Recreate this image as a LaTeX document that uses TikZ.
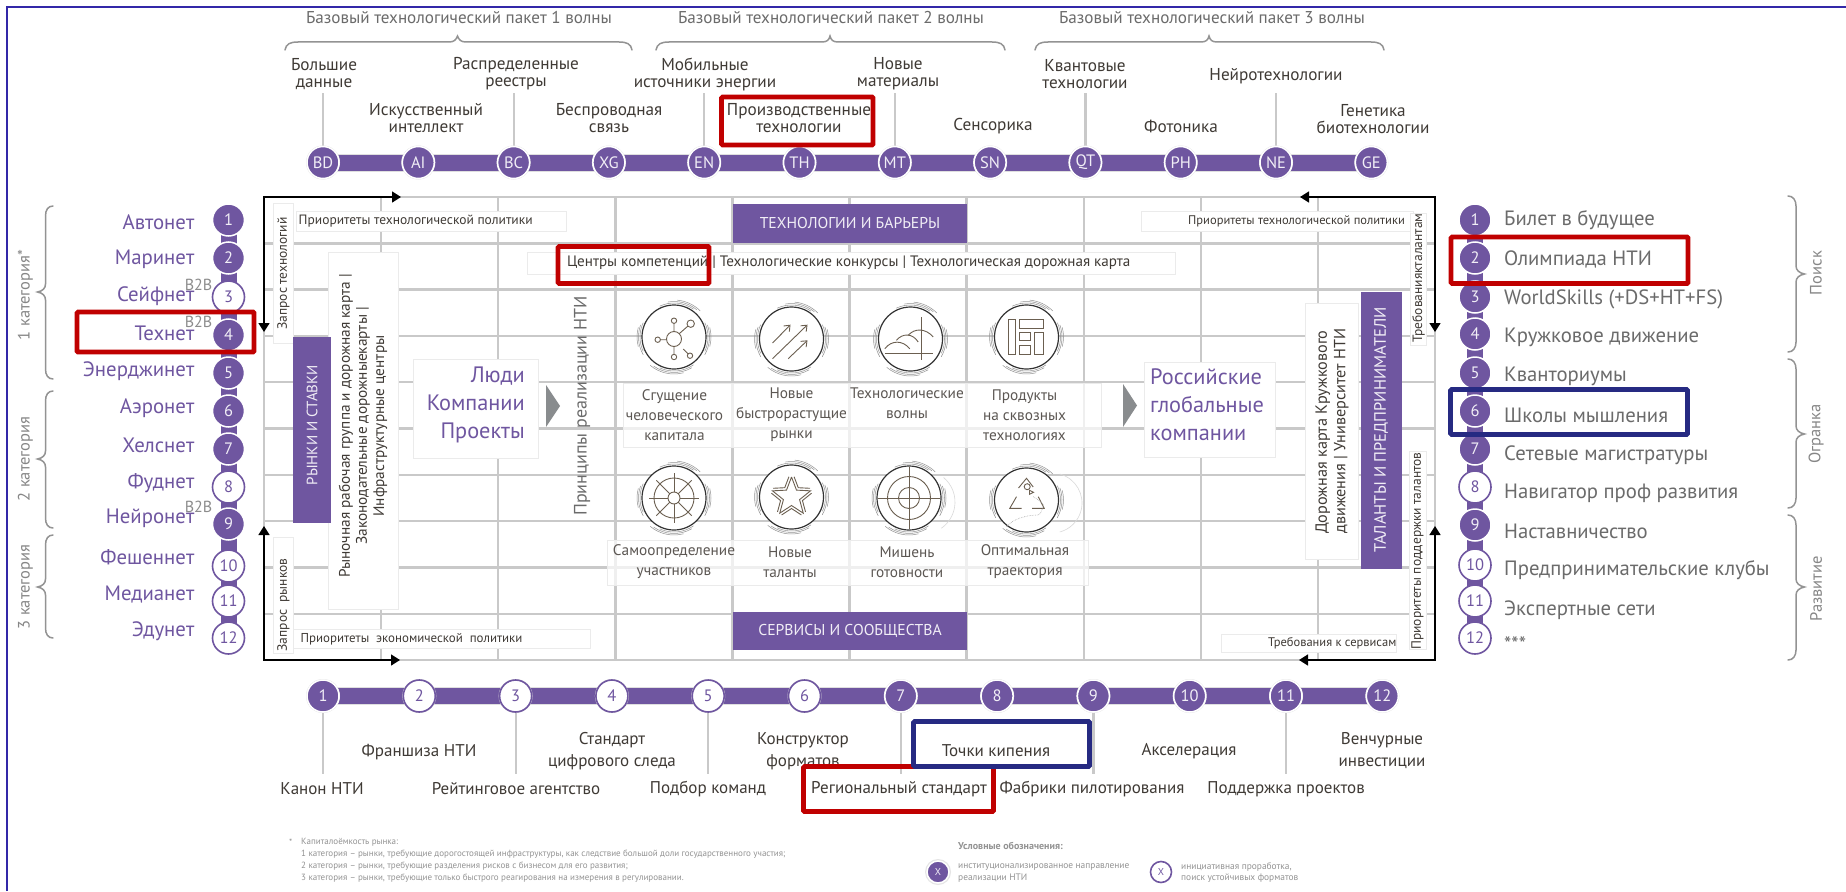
\documentclass[tikz,border=0pt]{standalone}
\usepackage{fontspec}
\setmainfont{PT Sans}
\usetikzlibrary{arrows.meta,calc}
\definecolor{pur}{HTML}{6F56A0}
\definecolor{txtg}{HTML}{6B6B6B}
\definecolor{txtd}{HTML}{3F3A35}
\definecolor{gridc}{HTML}{C9C9C9}
\definecolor{hred}{HTML}{C00000}
\definecolor{hblue}{HTML}{262A82}
\definecolor{frameblue}{HTML}{3328A8}
\definecolor{icb}{HTML}{6B5F50}
\newcommand{\fs}[1]{\fontsize{#1}{#1}\selectfont}
\newcommand{\fsl}[2]{\fontsize{#1}{#2}\selectfont}
\tikzset{
  x=1pt,y=-1pt,
  gridline/.style={gridc,line width=2.4pt},
  bigbar/.style={pur,line width=16pt},
  listbar/.style={pur,line width=16pt},
  conn/.style={gridc,line width=2.2pt},
  dot/.style={circle,fill=pur,draw=white,line width=1.5pt,minimum size=32pt,inner sep=0pt,text=white!90!pur,font=\fs{16.5}},
  odot/.style={circle,fill=white,draw=pur,line width=1.6pt,minimum size=32pt,inner sep=0pt,text=pur,font=\fs{16.5}},
  lab/.style={text=txtd,font=\fsl{17.2}{17},align=center,inner sep=0pt},
  lab2/.style={text=txtd,font=\fsl{17}{22},align=center,inner sep=0pt},
  wave/.style={text=txtg,font=\fs{17.1},inner sep=0pt},
  leftl/.style={text=pur,font=\fs{20.8},anchor=east,inner sep=0pt},
  rightl/.style={text=txtg,font=\fs{20.7},anchor=west,inner sep=0pt},
  bbt/.style={text=gray!90,font=\fs{16},inner sep=0pt},
  brace/.style={draw=gray!85,line width=1.5pt,line cap=round},
  catl/.style={text=gray!95,font=\fs{16.5},rotate=90,inner sep=0pt},
  wbox/.style={draw=black!8,fill=white,line width=.7pt,inner sep=0pt},
  tbox/.style={draw=black!8,fill=white,fill opacity=.72,line width=.7pt,inner sep=0pt},
  pbox/.style={fill=pur,draw=none,inner sep=0pt,text=white!90!pur},
  small/.style={text=txtd,font=\fs{13.5},inner sep=0pt},
  flow/.style={black,line width=1.5pt,{Triangle[length=9pt,width=11pt]}-{Triangle[length=9pt,width=11pt]}},
  big/.style={text=pur,font=\fsl{22.3}{28},inner sep=0pt},
  capt/.style={text=txtd!85,font=\fsl{15.3}{20},align=center,inner sep=0pt},
  hl/.style={line width=4.6pt,rounded corners=1pt},
  icon/.style={icb,line width=.9pt},
  ring/.style={black!80,line width=1.2pt},
  arcs/.style={gray!85,line width=.5pt},
  tri/.style={fill=black!55!cyan!10!gray,draw=none},
  foot/.style={text=gray!85,font=\fs{9},anchor=west,inner sep=0pt},
  leg/.style={text=gray!85,font=\fs{9.4},anchor=west,inner sep=0pt},
}
\newcommand{\ringat}[2]{%
  \draw[white,fill=white] (#1,#2) circle (32);
  \draw[ring] (#1,#2) circle (32);
  \draw[arcs] ($(#1,#2)+(-115:34)$) arc (-115:-55:34) ($(#1,#2)+(-100:35.5)$) arc (-100:-50:35.5) ($(#1,#2)+(-85:37)$) arc (-85:-45:37);
  \draw[arcs] ($(#1,#2)+(-25:34)$) arc (-25:25:34) ($(#1,#2)+(-20:35.5)$) arc (-20:30:35.5) ($(#1,#2)+(-15:37)$) arc (-15:15:37);
  \draw[arcs] ($(#1,#2)+(55:34)$) arc (55:115:34) ($(#1,#2)+(60:35.5)$) arc (60:125:35.5) ($(#1,#2)+(75:37)$) arc (75:130:37);
  \draw[arcs] ($(#1,#2)+(155:34)$) arc (155:205:34) ($(#1,#2)+(150:35.5)$) arc (150:200:35.5) ($(#1,#2)+(165:37)$) arc (165:195:37);
}
\begin{document}
\begin{tikzpicture}
\useasboundingbox (0,0) rectangle (1846,891);
\fill[white] (0,0) rectangle (1846,891);
% frame
\draw[frameblue,line width=2pt] (7,891) -- (7,7) -- (1846,7);

% grid
\foreach \i in {0,...,10}{
  \draw[gridline] ({264+\i*117.1},197) -- ({264+\i*117.1},660);
  \draw[gridline] (264,{197+\i*46.3}) -- (1435,{197+\i*46.3});
}
% flow arrows
\coordinate (fa1) at (264,332); \coordinate (fa2) at (264,197); \coordinate (fa3) at (401,197);
\coordinate (fb1) at (1300,197); \coordinate (fb2) at (1435,197); \coordinate (fb3) at (1435,332);
\coordinate (fc1) at (264,526); \coordinate (fc2) at (264,660); \coordinate (fc3) at (400,660);
\coordinate (fd1) at (1435,526); \coordinate (fd2) at (1435,660); \coordinate (fd3) at (1299,660);
\draw[flow] (fa1) -- (fa2) -- (fa3);
\draw[flow] (fb1) -- (fb2) -- (fb3);
\draw[flow] (fc1) -- (fc2) -- (fc3);
\draw[flow] (fd1) -- (fd2) -- (fd3);

% wave titles and braces
\node[wave] (w1) at (459,18) {Базовый технологический пакет 1 волны};
\node[wave] (w2) at (831,18) {Базовый технологический пакет 2 волны};
\node[wave] (w3) at (1212,18) {Базовый технологический пакет 3 волны};
\draw[brace] (285,50) .. controls (286,44) and (290,42) .. (298,42) -- (449,42) .. controls (454,42) and (456,40) .. (457.5,36) .. controls (459,40) and (461,42) .. (466,42) -- (619,42) .. controls (627,42) and (631,44) .. (632,50);
\draw[brace] (656,50) .. controls (657,44) and (661,42) .. (669,42) -- (822,42) .. controls (827,42) and (829,40) .. (830,36) .. controls (831,40) and (833,42) .. (838,42) -- (992,42) .. controls (1000,42) and (1004,44) .. (1005,50);
\draw[brace] (1035,50) .. controls (1036,44) and (1040,42) .. (1048,42) -- (1201,42) .. controls (1206,42) and (1208,40) .. (1209,36) .. controls (1210,40) and (1212,42) .. (1217,42) -- (1371,42) .. controls (1379,42) and (1383,44) .. (1384,50);

% top row
\foreach \n/\t [count=\i from 0] in {BD/BD,AI/AI,BC/BC,XG/XG,EN/EN,TH/TH,MT/MT,SN/SN,QT/QT,PH/PH,NE/NE,GE/GE}
  \coordinate (p\n) at ({323+\i*95.3},162.5);
\draw[gridc!60,line width=18pt] (pBD) -- (pGE);
\draw[bigbar] (pBD) -- (pGE);
\foreach \n in {BD,EN,BC,MT,QT,NE}{
  \coordinate (e\n) at ($(p\n)+(0,-69.5)$);
  \draw[conn] (p\n) -- (e\n);
}
\foreach \n [count=\i from 0] in {BD,AI,BC,XG,EN,TH,MT,SN,QT,PH,NE,GE}{
  \fill[black!12] (p\n) circle (17);
  \node[dot] (t\n) at (p\n) {\n};
}
\node[lab] (l1) at (324,74) {Большие\\данные};
\node[lab] (l2) at (426,118) {Искусственный\\интеллект};
\node[lab] (l3) at (516,74) {Распределенные\\реестры};
\node[lab] (l4) at (609,118) {Беспроводная\\связь};
\node[lab] (l5) at (705,74) {Мобильные\\источники энергии};
\node[lab] (l6) at (799,118) {Производственные\\технологии};
\node[lab] (l7) at (898,74) {Новые\\материалы};
\node[lab] (l8) at (993,126.5) {Сенсорика};
\node[lab] (l9) at (1085,74) {Квантовые\\технологии};
\node[lab] (l10) at (1181,126.5) {Фотоника};
\node[lab] (l11) at (1276,76.5) {Нейротехнологии};
\node[lab] (l12) at (1373,119.5) {Генетика\\биотехнологии};

% bottom row
\foreach \i in {1,...,12}
  \coordinate (q\i) at ({323+(\i-1)*96.3},696);
\draw[gridc!60,line width=18pt] (q1) -- (q12);
\draw[bigbar] (q1) -- (q12);
\foreach \i in {1,3,5,7,9,11}{
  \coordinate (r\i) at ($(q\i)+(0,78)$);
  \draw[conn] (q\i) -- (r\i);
}
\foreach \i in {1,7,8,9,10,11,12}{
  \fill[black!12] (q\i) circle (17);
  \node[dot] (b\i) at (q\i) {\i};
}
\foreach \i in {2,3,4,5,6}{
  \fill[black!12] (q\i) circle (17);
  \node[odot] (b\i) at (q\i) {\i};
}
\node[lab2] (m1) at (322,789) {Канон НТИ};
\node[lab2] (m2) at (419,752) {Франшиза НТИ};
\node[lab2] (m3) at (516,789) {Рейтинговое агентство};
\node[lab2] (m4) at (612,751) {Стандарт\\цифрового следа};
\node[lab2] (m5) at (708,789) {Подбор команд};
\node[lab2] (m6) at (803,751) {Конструктор\\форматов};
\node[lab2] (m7) at (899,789) {Региональный стандарт};
\node[lab2] (m8) at (996,751) {Точки кипения};
\node[lab2] (m9) at (1092,789) {Фабрики пилотирования};
\node[lab2] (m10) at (1189,751) {Акселерация};
\node[lab2] (m11) at (1286,789) {Поддержка проектов};
\node[lab2] (m12) at (1382,751) {Венчурные\\инвестиции};

% left list
\coordinate (ltop) at (228.5,220); \coordinate (lbot) at (228.5,638);
\draw[listbar] (ltop) -- (lbot);
\foreach \i/\y/\s in {1/220/dot,2/258/dot,3/297/odot,4/335/dot,5/373/dot,6/411/dot,7/449/dot,8/487/odot,9/524/dot,10/566/odot,11/601/odot,12/638/odot}{
  \node[\s] (a\i) at (228.5,\y) {\i};
}
\foreach \i/\y/\t in {1/222/Автонет,2/259.5/Маринет,3/296.5/Сейфнет,4/333.5/Технет,5/371.5/Энерджинет,6/408.5/Аэронет,7/445.5/Хелснет,8/483.5/Фуднет,9/518.5/Нейронет,10/557.5/Фешеннет,11/594.5/Медианет,12/631.5/Эдунет}{
  \node[leftl] (at\i) at (194.5,\y) {\t};
}
\node[bbt] (b2ba) at (198.5,285) {B2B};
\node[bbt] (b2bb) at (198.5,322) {B2B};
\node[bbt] (b2bc) at (198.5,507) {B2B};
% left braces
\draw[brace] (53,206) .. controls (48,206) and (45.5,210) .. (45.5,216) -- (45.5,284) .. controls (45.5,288) and (43,291) .. (37.5,292) .. controls (43,293) and (45.5,296) .. (45.5,300) -- (45.5,369) .. controls (45.5,375) and (48,379) .. (53,379);
\draw[brace] (53,391) .. controls (48,391) and (45.5,395) .. (45.5,401) -- (45.5,451) .. controls (45.5,455) and (43,458) .. (37.5,459) .. controls (43,460) and (45.5,463) .. (45.5,467) -- (45.5,518) .. controls (45.5,524) and (48,528) .. (53,528);
\draw[brace] (53,535) .. controls (48,535) and (45.5,539) .. (45.5,545) -- (45.5,579) .. controls (45.5,583) and (43,586) .. (37.5,587) .. controls (43,588) and (45.5,591) .. (45.5,595) -- (45.5,628) .. controls (45.5,634) and (48,638) .. (53,638);
\node[catl] (c1) at (25.5,295) {1 категория*};
\node[catl] (c2) at (25.5,459) {2 категория};
\node[catl] (c3) at (25.5,587) {3 категория};

% right list
\coordinate (rtop) at (1475,220); \coordinate (rbot) at (1475,638);
\draw[listbar] (rtop) -- (rbot);
\foreach \i/\y/\s in {1/220/dot,2/258/dot,3/297/dot,4/334/dot,5/373/dot,6/411/dot,7/449/dot,8/487/odot,9/525/dot,10/565/odot,11/601/odot,12/638/odot}{
  \node[\s] (z\i) at (1475,\y) {\i};
}
\foreach \i/\y/\t in {1/220/Билет в будущее,2/259/Олимпиада НТИ,3/299/{WorldSkills (+DS+HT+FS)},4/337/Кружковое движение,5/376/Кванториумы,6/415/Школы мышления,7/455/Сетевые магистратуры,8/493/Навигатор проф развития,9/531/Наставничество,10/570/Предпринимательские клубы,11/610/Экспертные сети,12/644/***}{
  \node[rightl] (zt\i) at (1504,\y) {\t};
}
% right braces
\draw[brace] (1788,196) .. controls (1793,196) and (1796,200) .. (1796,206) -- (1796,266) .. controls (1796,270) and (1799,273) .. (1804.5,274) .. controls (1799,275) and (1796,278) .. (1796,282) -- (1796,342) .. controls (1796,348) and (1793,352) .. (1788,352);
\draw[brace] (1788,359) .. controls (1793,359) and (1796,363) .. (1796,369) -- (1796,426) .. controls (1796,430) and (1799,433) .. (1804.5,434) .. controls (1799,435) and (1796,438) .. (1796,442) -- (1796,498) .. controls (1796,504) and (1793,508) .. (1788,508);
\draw[brace] (1788,515) .. controls (1793,515) and (1796,519) .. (1796,525) -- (1796,579) .. controls (1796,583) and (1799,586) .. (1804.5,587) .. controls (1799,588) and (1796,591) .. (1796,595) -- (1796,650) .. controls (1796,656) and (1793,660) .. (1788,660);
\node[catl] (d1) at (1816,273) {Поиск};
\node[catl] (d2) at (1816,434) {Огранка};
\node[catl] (d3) at (1816,589) {Развитие};

% inner boxes left
\node[wbox,minimum width=20pt,minimum height=140pt] (zt) at (283.5,273) {};
\node[small,rotate=90] (ztt) at (283.5,273.5) {Запрос технологий};
\node[wbox,minimum width=270pt,minimum height=20pt] (pt) at (431,221) {};
\node[small,anchor=west] (ptt) at (298.5,221) {Приоритеты технологической политики};
\node[wbox,minimum width=70pt,minimum height=357pt] (rr) at (363,430.5) {};
\node[pbox,minimum width=37.5pt,minimum height=186pt,rotate=0] (rs) at (312,430) {};
\node[text=white!90!pur,font=\fs{15},rotate=90,inner sep=0pt] (rst) at (312,425) {РЫНКИ И СТАВКИ};
\node[text=txtd,font=\fsl{15.3}{17.2},rotate=90,align=center,inner sep=0pt] (rrt) at (363,426) {Рыночная рабочая группа и дорожная карта |\\Законодательные дорожныекарты |\\Инфраструктурные центры};
\node[wbox,minimum width=124.5pt,minimum height=99pt] (lk) at (476,408.5) {};
\node[big,align=right,anchor=east] (lkt) at (525,405) {Люди\\Компании\\Проекты};
\fill[tri] (546,385) -- (560,406) -- (546,427) -- cycle;
\node[text=txtg,font=\fs{18},rotate=90,inner sep=0pt] (pr) at (582,406) {Принципы реализации НТИ};
\node[wbox,minimum width=648pt,minimum height=22pt] (cb) at (851,263) {};
\node[small,anchor=west,font=\fs{15.1}] (cbt) at (567,263) {Центры компетенций | Технологические конкурсы | Технологическая дорожная карта};
\node[pbox,minimum width=234pt,minimum height=39pt,font=\fs{15.7}] (tb) at (850,223.5) {ТЕХНОЛОГИИ И БАРЬЕРЫ};
\node[pbox,minimum width=234pt,minimum height=38pt,font=\fs{15.7}] (sb) at (850,631) {СЕРВИСЫ И СООБЩЕСТВА};
\node[wbox,minimum width=20pt,minimum height=116pt] (zr) at (283.5,595) {};
\node[small,rotate=90] (zrt) at (283.5,605) {Запрос\ \ рынков};
\node[wbox,minimum width=297pt,minimum height=19pt] (pe) at (441.5,638.5) {};
\node[small,anchor=west,font=\fs{12.9}] (pet) at (300.5,639) {Приоритеты\ \ экономической\ \ политики};

% inner boxes right
\node[wbox,minimum width=272pt,minimum height=20pt] (pt2) at (1277,221) {};
\node[small,anchor=east,font=\fs{12.5}] (pt2t) at (1405,221) {Приоритеты технологической политики};
\node[wbox,minimum width=16pt,minimum height=132pt] (tk) at (1418,279) {};
\node[small,rotate=90] (tkt) at (1418.5,278) {Требованиякталантам};
\node[wbox,minimum width=53pt,minimum height=256pt] (dk) at (1331.5,431) {};
\node[text=txtd,font=\fsl{16.2}{18.6},rotate=90,align=left,inner sep=0pt] (dkt) at (1332,431) {Дорожная карта Кружкового\\движения | Университет НТИ};
\node[pbox,minimum width=41pt,minimum height=277pt] (tp) at (1381.5,430.5) {};
\node[text=white!90!pur,font=\fs{16.5},rotate=90,inner sep=0pt] (tpt) at (1381,430) {ТАЛАНТЫ И ПРЕДПРИНИМАТЕЛИ};
\node[wbox,minimum width=17.5pt,minimum height=198pt] (pp) at (1418,550) {};
\node[small,rotate=90] (ppt) at (1417.5,551) {Приоритеты поддержки талантов};
\node[wbox,minimum width=175pt,minimum height=18pt] (ts) at (1308.5,643) {};
\node[small,anchor=east,font=\fs{12.5}] (tst) at (1396.5,643) {Требования к сервисам};
\node[wbox,minimum width=131pt,minimum height=95pt] (rg) at (1209.5,409.5) {};
\node[big,align=left,anchor=west] (rgt) at (1150,405) {Российские\\глобальные\\компании};
\fill[tri] (1123,384) -- (1137,405.5) -- (1123,427) -- cycle;

% icons
\foreach \x/\y in {674/337,791.5/339,910.5/339,1026.5/337,674/498,791.5/497,909/498,1026.5/500}{\ringat{\x}{\y}}
\begin{scope}[shift={(674,337)},icon]
  \draw (0,2) circle (7.5) (0,-16.3) circle (2.7) (16.7,-13.3) circle (3.7) (-16.3,2.7) circle (2.7) (0,20) circle (2.7) (16,18.7) circle (2.7);
  \draw (0,-5.5) -- (0,-13.6) (5.2,-3.3) -- (14,-11) (-7.4,2.7) -- (-13.6,2.7) (0,9.5) -- (0,17.3) (9.3,12) -- (14.3,17);
\end{scope}
\begin{scope}[shift={(791.5,339)},icon,-{Straight Barb[length=5pt,width=8pt]}]
  \draw (-19,4) -- (-1,-14.3);
  \draw (-19,19.7) -- (16,-14.3);
  \draw (-3.3,19.7) -- (16,1.3);
\end{scope}
\begin{scope}[shift={(910.5,339)},icon]
  \draw (11,-22) -- (11,21) (-25.7,14.7) -- (22.7,14.7);
  \draw (-25.7,9.7) .. controls (-19,1) and (-8,1) .. (-0.7,9.7);
  \draw (-14,1.3) .. controls (-8,-6) and (2,-6) .. (7.7,3);
  \draw (-2.3,-3.7) .. controls (4,-11) and (15,-11) .. (22.7,-2);
\end{scope}
\begin{scope}[shift={(1026.5,337)},icon]
  \draw (-18.3,-18) rectangle (-11,17.7) (-6.7,-18) rectangle (16.7,-9) (-6.7,-5) rectangle (4.3,3.3) (-6.7,8.3) rectangle (4.3,17.7) (7.7,-5) rectangle (16.7,17.7);
\end{scope}
\begin{scope}[shift={(674,498)},icon]
  \draw (0,0) circle (6) (0,0) circle (20);
  \draw (0,-25) -- (0,-6) (0,6) -- (0,25) (-25,0) -- (-6,0) (6,0) -- (25,0);
  \foreach \a in {45,135,225,315} \draw (\a:6) -- (\a:25);
\end{scope}
\begin{scope}[shift={(791.5,497)},icon]
  \draw plot[samples at={0,1,...,10}] ({cos(\x*36-90)*(mod(\x,2)==0?20:8.5)},{sin(\x*36-90)*(mod(\x,2)==0?20:8.5)});
  \foreach \k in {0,...,4}{
    \coordinate (sv) at ({-90+72*\k}:27);
    \coordinate (su) at ({-54+72*\k}:11.5);
    \coordinate (sw) at ({-18+72*\k}:27);
    \draw ($(su)!.62!(sv)$) -- (su) -- ($(su)!.62!(sw)$);
  }
\end{scope}
\begin{scope}[shift={(909,498)},icon]
  \draw (0,0) circle (21.5) (0,0) circle (10.5);
  \draw (-31,0) -- (31,0) (0,-31) -- (0,31);
\end{scope}
\draw[black!15,line width=.6pt] (923,502) ++(-50:32) arc (-50:55:32);
\begin{scope}[shift={(1026.5,500)},icon]
  \draw (-8,-12) -- (0,-21.7) -- (6.7,-13);
  \draw (-10,-3.3) -- (-16.7,8.3) -- (-5,8.3);
  \draw (11.7,-3.3) -- (17.7,8.3) -- (5.7,8.3);
  \draw (0.7,-13.3) circle (3);
  \draw (3,-9.7) -- (7,-7.7) -- (3,-5.7) -- cycle;
  \draw[densely dotted,black!35,line width=.6pt] (6.7,-3.3) .. controls (12,0) and (17,3) .. (16.7,5) .. controls (16,10) and (14,14) .. (11.7,15) .. controls (0,15) and (-14,19) .. (-20,26.7);
\end{scope}
\draw[black!15,line width=.6pt] (1052,503) ++(-75:30) arc (-75:75:30);

\node[tbox,minimum width=478.5pt,minimum height=64pt] (cap1) at (862.25,415) {};
\node[tbox,minimum width=480.5pt,minimum height=45pt] (cap2) at (847.75,562.5) {};
\node[capt] (k1) at (674.5,415) {Сгущение\\человеческого\\капитала};
\node[capt] (k2) at (791.5,415) {Новые\\быстрорастущие\\рынки};
\node[capt,anchor=north] (k3) at (907,388) {Технологические\\волны};
\node[capt] (k4) at (1024.5,415) {Продукты\\на сквозных\\технологиях};
\node[capt] (n1) at (674,562) {Самоопределение\\участников};
\node[capt] (n2) at (790,562) {Новые\\таланты};
\node[capt] (n3) at (907,562) {Мишень\\готовности};
\node[capt] (n4) at (1025,562) {Оптимальная\\траектория};

% footnote and legend
\node[foot] (f0) at (289,842) {*};
\node[foot] (f1) at (301,842.3) {Капиталоёмкость рынка:};
\node[foot] (f2) at (301,854) {1 категория – рынки, требующие дорогостоящей инфраструктуры, как следствие большой доли государственного участия;};
\node[foot] (f3) at (301,865.7) {2 категория – рынки, требующие разделения рисков с бизнесом для его развития;};
\node[foot] (f4) at (301,877.7) {3 категория – рынки, требующие только быстрого реагирования на измерения в регулировании.};
\node[leg,font=\bfseries\fs{10}] (g0) at (958,846) {Условные обозначения:};
\fill[black!10] (938,872) circle (13);
\node[dot,minimum size=22pt,font=\fs{10}] (g1) at (938,872) {X};
\node[odot,minimum size=21pt,font=\fs{10}] (g2) at (1161,872) {X};
\node[leg] (g1a) at (958,867) {институционализированное направление};
\node[leg] (g1b) at (958,878) {реализации НТИ};
\node[leg] (g2a) at (1181,867) {инициативная проработка,};
\node[leg] (g2b) at (1181,878) {поиск устойчивых форматов};

% highlights
\draw[hl,hred] (77,312) rectangle (254,352);
\draw[hl,hred] (721.5,97) rectangle (873,145);
\draw[hl,hred] (558,246.5) rectangle (709,283.5);
\draw[hl,hred] (1451,237) rectangle (1688,283.5);
\draw[hl,hred] (803.5,766.5) rectangle (993.5,811.5);
\draw[hl,hblue] (1450.5,389.5) rectangle (1687.5,434.5);
\draw[hl,hblue] (913.5,721.5) rectangle (1089.5,766.5);
\end{tikzpicture}
\end{document}
